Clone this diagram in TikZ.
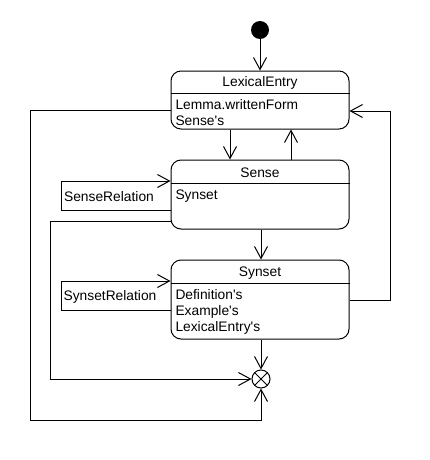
\documentclass[tikz,border=0pt]{standalone}
\usepackage{fontspec}
\setmainfont{Liberation Sans}[Ligatures=TeXOff]
\usetikzlibrary{arrows.meta}

\tikzset{
  state/.style={draw, rounded corners=10pt, minimum width=178pt, inner sep=0pt},
  body/.style={anchor=north west, align=left, inner sep=0pt},
  trans/.style={-{Straight Barb[length=12pt,width=13pt]}},
}

\begin{document}
\begin{tikzpicture}[x=1pt, y=-1pt, line width=1pt, font=\fontsize{13.8}{16}\selectfont]
    \useasboundingbox (0,0) rectangle (430,460) ;
    \node[circle, fill, minimum size=18pt, inner sep=0pt] (start) at (260,30) {} ;
    \node[state, minimum height=58pt] (le) at (260,100) {} ;
    \node[state, minimum height=69pt] (sense) at (260,194.5) {} ;
    \node[state, minimum height=79pt] (synset) at (260,299.5) {} ;
    \node[circle, draw, minimum size=18pt, inner sep=0pt] (end) at (261,379) {} ;
    \draw (end.north west) -- (end.south east) ;
    \draw (end.north east) -- (end.south west) ;
    % compartments
    \draw (le.west |- 0,93) -- (le.east |- 0,93) ;
    \draw (sense.west |- 0,183) -- (sense.east |- 0,183) ;
    \draw (synset.west |- 0,283) -- (synset.east |- 0,283) ;
    \node (letitle) at (260,83) {LexicalEntry} ;
    \node (sensetitle) at (260,173) {Sense} ;
    \node (synsettitle) at (260,273) {Synset} ;
    \node[body] (lebody) at (175,99) {Lemma.writtenForm\\Sense's} ;
    \node[body] (sensebody) at (175,189) {Synset} ;
    \node[body] (synsetbody) at (175,289) {Definition's\\Example's\\LexicalEntry's} ;
    % transitions
    \draw[trans] (start) -- (le) ;
    \draw[trans] (le.south -| 230,0) -- (sense.north -| 230,0) ;
    \draw[trans] (sense.north -| 291,0) -- (le.south -| 291,0) ;
    \draw[trans] (sense.south -| 261,0) -- (synset.north -| 261,0) ;
    \draw[trans] (synset.south -| 261,0) -- (end) ;
    \draw[trans] (sense.west |- 0,210) -| (61,181) -- (sense.west |- 0,181) ;
    \node (senserel) at (109,197) {SenseRelation} ;
    \draw[trans] (synset.west |- 0,310) -| (61,281) -- (synset.west |- 0,281) ;
    \node (synsetrel) at (110,297) {SynsetRelation} ;
    \draw[trans] (synset.east |- 0,300) -| (390,111) -- (le.east |- 0,111) ;
    \draw[trans] (sense.west |- 0,221) -| (50,379) -- (end) ;
    \draw[trans] (le.west |- 0,110) -| (30,420) -| (end.south) ;
\end{tikzpicture}
\end{document}
